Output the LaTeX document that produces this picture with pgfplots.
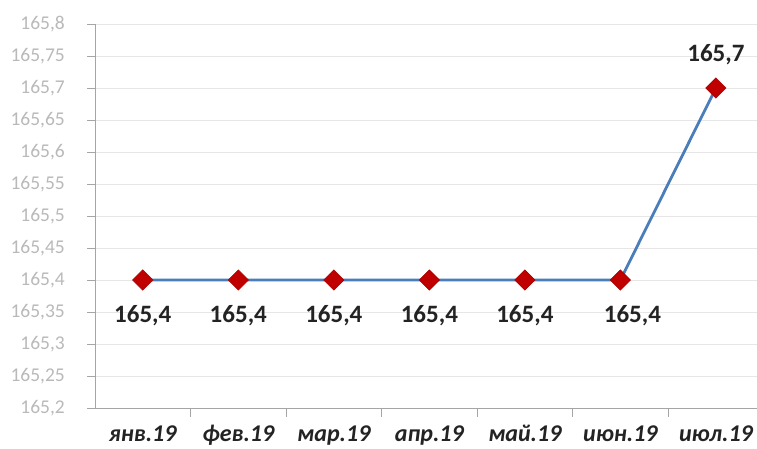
\documentclass[border=0pt]{standalone}
\usepackage{fontspec}
\setmainfont{Carlito}
\usepackage{pgfplots}
\pgfplotsset{compat=1.18}
\definecolor{linblue}{RGB}{74,126,187}
\definecolor{mkred}{RGB}{192,0,0}
\definecolor{ticklbl}{RGB}{185,185,185}
\definecolor{gridc}{RGB}{230,230,230}
\definecolor{axc}{RGB}{165,165,165}
\definecolor{txt}{RGB}{35,35,35}

\begin{document}
\begin{tikzpicture}[x=1pt,y=1pt]
\useasboundingbox (0,0) rectangle (757,448);
\begin{axis}[
    at={(95pt,40pt)}, anchor=south west,
    scale only axis, width=662pt, height=384pt,
    xmin=-0.5, xmax=6.43, ymin=165.2, ymax=165.8,
    axis x line*=bottom, axis y line*=left,
    axis line style={draw=axc, line width=0.8pt},
    ytick={165.2,165.25,165.3,165.35,165.4,165.45,165.5,165.55,165.6,165.65,165.7,165.75,165.8},
    xtick={0,1,2,3,4,5,6},
    xticklabels={янв.19,фев.19,мар.19,апр.19,май.19,июн.19,июл.19},
    minor xtick={0.5,1.5,2.5,3.5,4.5,5.5},
    every major x tick/.append style={draw=none},
    tick align=outside, major tick length=8pt, minor tick length=9pt,
    tick style={draw=axc, line width=0.8pt},
    ymajorgrids, grid style={draw=gridc, line width=0.8pt},
    /pgf/number format/assume math mode=true,
    /pgf/number format/use comma,
    /pgf/number format/fixed,
    /pgf/number format/precision=2,
    yticklabel style={font=\fontsize{19.5}{21}\selectfont, text=ticklbl,
        anchor=east, inner xsep=0pt, xshift=-22pt},
    xticklabel style={font=\fontsize{24}{26}\selectfont\bfseries\itshape, text=txt,
        anchor=base, inner sep=0pt, yshift=-25pt},
    clip=false,
]
\addplot[linblue, line width=2.8pt, mark=square*, mark size=7.2pt,
    mark options={rotate=45, fill=mkred, draw=mkred!85!black, line width=0.5pt}]
    coordinates {(0,165.4) (1,165.4) (2,165.4) (3,165.4) (4,165.4) (5,165.4) (6,165.7)};
% labels below
\addplot[draw=none, mark=none, nodes near coords={\pgfmathprintnumber[precision=1]{\pgfplotspointmeta}},
    every node near coord/.append style={font=\fontsize{25}{27}\selectfont\bfseries, text=txt, anchor=base, yshift=-42pt}]
    coordinates {(0,165.4) (1,165.4) (2,165.4) (3,165.4) (4,165.4)};
\addplot[draw=none, mark=none, nodes near coords={\pgfmathprintnumber[precision=1]{\pgfplotspointmeta}},
    every node near coord/.append style={font=\fontsize{25}{27}\selectfont\bfseries, text=txt, anchor=base, yshift=-42pt, xshift=12pt}]
    coordinates {(5,165.4)};
% label above
\addplot[draw=none, mark=none, nodes near coords={\pgfmathprintnumber[precision=1]{\pgfplotspointmeta}},
    every node near coord/.append style={font=\fontsize{25}{27}\selectfont\bfseries, text=txt, anchor=base, yshift=26pt}]
    coordinates {(6,165.7)};
\end{axis}
\end{tikzpicture}
\end{document}
